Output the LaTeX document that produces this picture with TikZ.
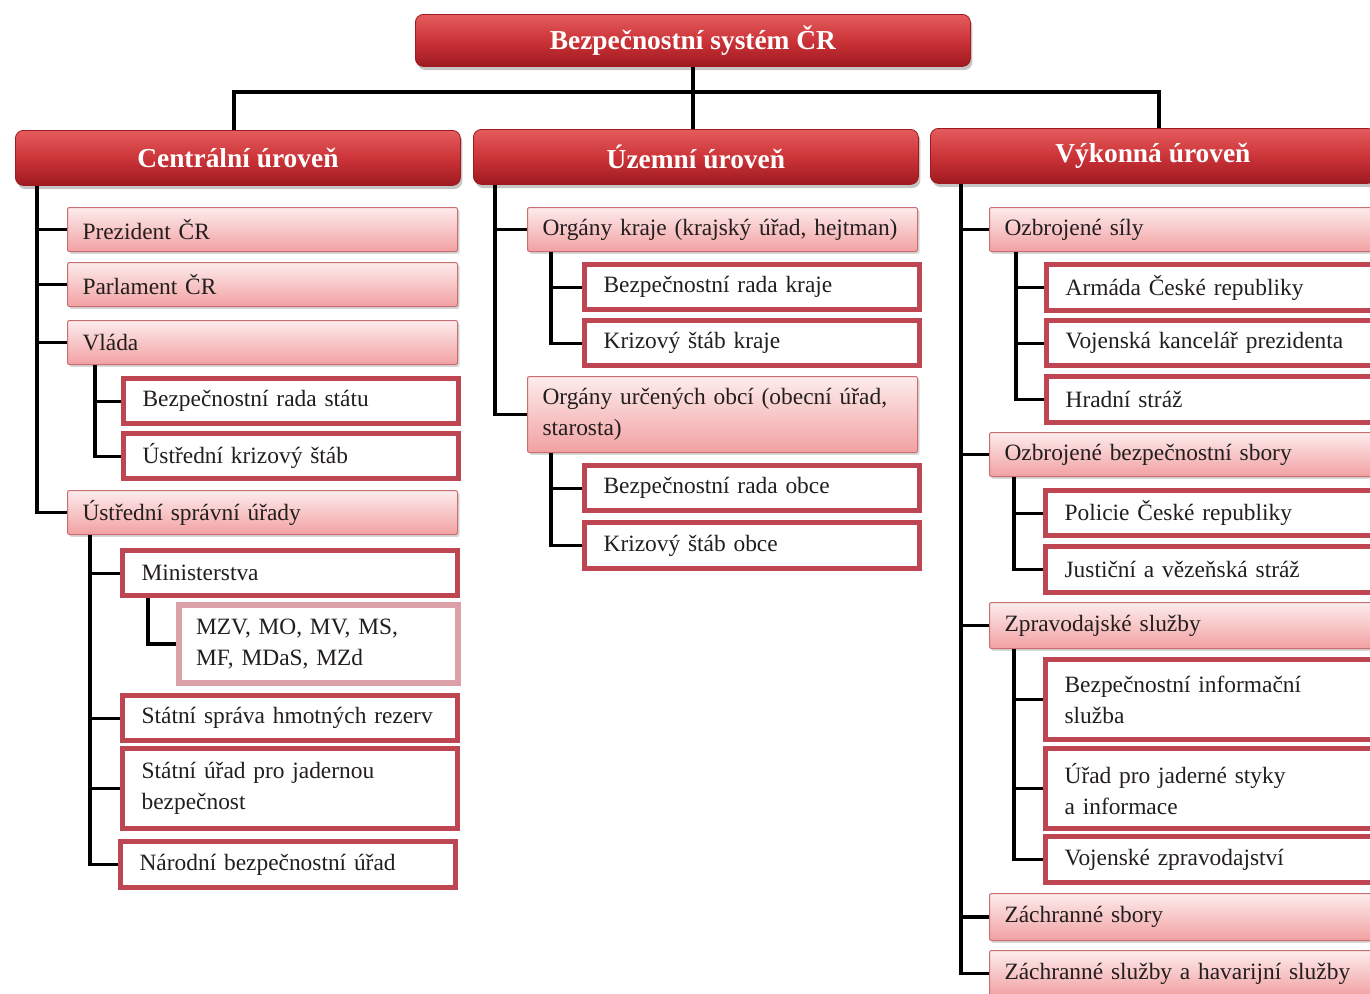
\documentclass[tikz,border=0pt]{standalone}
\usepackage{fontspec}
\setmainfont{Liberation Serif}
\usetikzlibrary{shadows}

\definecolor{hdtop}{RGB}{228,92,94}
\definecolor{hdmid}{RGB}{204,52,56}
\definecolor{hdbot}{RGB}{158,26,32}
\definecolor{pktop}{RGB}{253,236,236}
\definecolor{pkbot}{RGB}{242,160,162}
\definecolor{pkedge}{RGB}{200,110,112}
\definecolor{frame}{RGB}{190,70,82}
\definecolor{palefr}{RGB}{220,160,168}
\definecolor{txt}{RGB}{35,30,30}

\begin{document}
\begin{tikzpicture}[x=0.5pt,y=-0.5pt,
  every node/.style={anchor=north west,text=txt,
    font=\fontsize{11.7}{15.5}\selectfont},
  level/.style={draw=hdbot,rounded corners=4pt,top color=hdtop,
    bottom color=hdbot,middle color=hdmid,minimum width=222.5pt,
    minimum height=27.5pt,text=white,
    font=\fontsize{13.7}{16}\selectfont\bfseries,
    drop shadow={shadow xshift=1pt,shadow yshift=-1.8pt,opacity=.45}},
  organ/.style={draw=pkedge,line width=.5pt,rounded corners=1pt,
    top color=pktop,bottom color=pkbot,text width=180pt,inner xsep=7.5pt,
    align=left,minimum height=#1,
    drop shadow={shadow xshift=1pt,shadow yshift=-1.2pt,opacity=.3}},
  organ/.default=22pt,
  body/.style={draw=frame,line width=2.6pt,fill=white,text width=148.5pt,
    inner xsep=9.5pt,align=left,minimum height=#1,
    drop shadow={shadow xshift=.8pt,shadow yshift=-.8pt,opacity=.2}},
  body/.default=22.5pt,
  list/.style={draw=palefr,line width=3pt,fill=white,text width=122.5pt,
    inner xsep=8.5pt,align=left,minimum height=39pt},
  link/.style={line width=1.6pt,black}]

  \useasboundingbox (0,0) rectangle (1370,993);
  \clip (0,0) rectangle (1370,993);
  \fill[white] (0,0) rectangle (1370,993);

  % top and the three levels
  \node[level,minimum width=277.5pt,minimum height=26pt] (top) at (415,14) {Bezpečnostní systém ČR};
  \node[level] (cen) at (15,130) {Centrální úroveň};
  \node[level] (uze) at (473,129) {Územní úroveň};
  \node[level] (vyk) at (930,128) {Výkonná úroveň};
  \coordinate (bus) at (693,92);

  % central level
  \node[organ] (pre) at (67,207) {Prezident ČR};
  \node[organ] (par) at (67,262) {Parlament ČR};
  \node[organ] (vla) at (67,320) {Vláda};
  \node[body] (bst) at (121,376) {Bezpečnostní rada státu};
  \node[body] (uks) at (121,431) {Ústřední krizový štáb};
  \node[organ] (usu) at (67,490) {Ústřední správní úřady};
  \node[body] (min) at (120,548) {Ministerstva};
  \node[list] (mzv) at (176,602) {MZV, MO, MV, MS,\\MF, MDaS, MZd};
  \node[body] (ssr) at (120,693) {Státní správa hmotných rezerv};
  \node[body=40pt] (suj) at (120,746) {Státní úřad pro jadernou\\bezpečnost};
  \node[body=23pt] (nbu) at (118,839) {Národní bezpečnostní úřad};

  % territorial level
  \node[organ] (okr) at (527,207) {Orgány kraje (krajský úřad, hejtman)};
  \node[body] (brk) at (582,262) {Bezpečnostní rada kraje};
  \node[body] (ksk) at (582,318) {Krizový štáb kraje};
  \node[organ=38pt] (ouo) at (527,376) {Orgány určených obcí (obecní úřad,\\starosta)};
  \node[body] (bro) at (582,463) {Bezpečnostní rada obce};
  \node[body=23pt] (kso) at (582,520) {Krizový štáb obce};

  % executive level
  \node[organ] (ozs) at (989,207) {Ozbrojené síly};
  \node[body=23pt] (acr) at (1044,262) {Armáda České republiky};
  \node[body] (vkp) at (1044,318) {Vojenská kancelář prezidenta};
  \node[body=23pt] (hst) at (1044,374) {Hradní stráž};
  \node[organ] (obs) at (989,432) {Ozbrojené bezpečnostní sbory};
  \node[body] (pcr) at (1043,488) {Policie České republiky};
  \node[body=23pt] (jvs) at (1043,544) {Justiční a vězeňská stráž};
  \node[organ=23pt] (zps) at (989,602) {Zpravodajské služby};
  \node[body=40pt] (bis) at (1043,657) {Bezpečnostní informační\\služba};
  \node[body=40pt] (upj) at (1043,746) {Úřad pro jaderné styky\\a informace};
  \node[body=23pt] (vzp) at (1043,834) {Vojenské zpravodajství};
  \node[organ=23.5pt] (zsb) at (989,893) {Záchranné sbory};
  \node[organ=23pt] (zsh) at (989,950) {Záchranné služby a havarijní služby};

  % connectors
  \draw[link] (top.south) -- (top.south |- uze.north);
  \draw[link] (cen.north) ++(-4,0) |- (bus) -| ([xshift=3pt]vyk.north);

  \draw[link] (cen.south west) ++(22,0) coordinate (c0) |- (pre.west)
    (c0) |- (par.west) (c0) |- (vla.west) (c0) |- (usu.west);
  \draw[link] (vla.south west) ++(28,0) coordinate (c1) |- (bst.west)
    (c1) |- (uks.west);
  \draw[link] (usu.south west) ++(23,0) coordinate (c2) |- (min.west)
    (c2) |- (ssr.west) (c2) |- (suj.west) (c2) |- (nbu.west);
  \draw[link] (min.south west) ++(28,0) |- (mzv.west);

  \draw[link] (uze.south west) ++(22,0) coordinate (u0) |- (okr.west)
    (u0) |- (ouo.west);
  \draw[link] (okr.south west) ++(24,0) coordinate (u1) |- (brk.west)
    (u1) |- (ksk.west);
  \draw[link] (ouo.south west) ++(24,0) coordinate (u2) |- (bro.west)
    (u2) |- (kso.west);

  \draw[link] (vyk.south west) ++(31,0) coordinate (v0) |- (ozs.west)
    (v0) |- (obs.west) (v0) |- (zps.west) (v0) |- (zsb.west)
    (v0) |- (zsh.west);
  \draw[link] (ozs.south west) ++(27,0) coordinate (v1) |- (acr.west)
    (v1) |- (vkp.west) (v1) |- (hst.west);
  \draw[link] (obs.south west) ++(25,0) coordinate (v2) |- (pcr.west)
    (v2) |- (jvs.west);
  \draw[link] (zps.south west) ++(25,0) coordinate (v3) |- (bis.west)
    (v3) |- (upj.west) (v3) |- (vzp.west);
\end{tikzpicture}
\end{document}
